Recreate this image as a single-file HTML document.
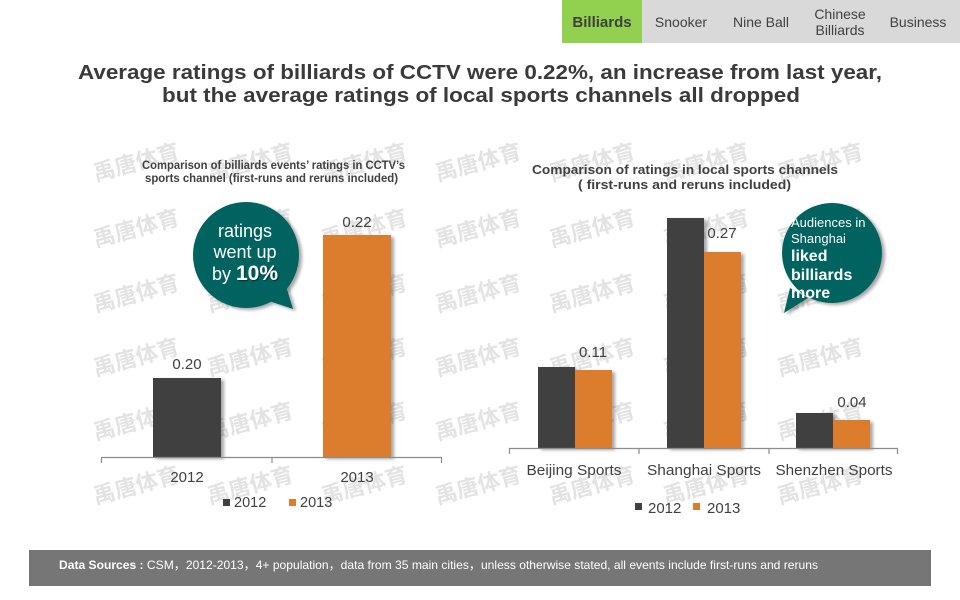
<!DOCTYPE html>
<html><head><meta charset="utf-8"><style>
html,body{margin:0;padding:0;background:#fff;width:960px;height:600px;overflow:hidden}
svg{display:block}
text{font-family:"Liberation Sans","Noto Sans CJK SC",sans-serif}
.wm{font-family:"Noto Sans CJK SC","WenQuanYi Zen Hei",sans-serif;font-weight:bold;font-size:22px;fill:#e3e3e3}
</style></head><body>
<svg width="960" height="600" viewBox="0 0 960 600" xmlns="http://www.w3.org/2000/svg">
<defs>
<filter id="sh" x="-20%" y="-20%" width="150%" height="140%">
<feGaussianBlur in="SourceAlpha" stdDeviation="1.5"/>
<feOffset dx="3" dy="2" result="o"/>
<feComponentTransfer><feFuncA type="linear" slope="0.35"/></feComponentTransfer>
<feMerge><feMergeNode/><feMergeNode in="SourceGraphic"/></feMerge>
</filter>
<filter id="ts"><feDropShadow dx="1" dy="1" stdDeviation="0.6" flood-color="#000" flood-opacity="0.5"/></filter>
</defs>

<!-- tabs -->
<rect x="642" y="0" width="318" height="43" fill="#d9d9d9"/>
<rect x="562" y="0" width="80" height="43" fill="#92d050"/>
<text x="602" y="27" text-anchor="middle" font-size="15" font-weight="bold" fill="#404040">Billiards</text>
<text x="681" y="27" text-anchor="middle" font-size="14" fill="#404040">Snooker</text>
<text x="761" y="27" text-anchor="middle" font-size="14" fill="#404040">Nine Ball</text>
<text x="840" y="19" text-anchor="middle" font-size="14" fill="#404040">Chinese</text>
<text x="840" y="35" text-anchor="middle" font-size="14" fill="#404040">Billiards</text>
<text x="918" y="27" text-anchor="middle" font-size="14" fill="#404040">Business</text>

<!-- title -->
<text x="78" y="79" font-size="20" font-weight="bold" fill="#3a3a3a" textLength="804" lengthAdjust="spacingAndGlyphs">Average ratings of billiards of CCTV were 0.22%, an increase from last year,</text>
<text x="162" y="102" font-size="20" font-weight="bold" fill="#3a3a3a" textLength="638" lengthAdjust="spacingAndGlyphs">but the average ratings of local sports channels all dropped</text>

<!-- watermarks -->
<g>
<g transform="translate(136,162) rotate(-15)"><text class="wm" x="0" y="8" text-anchor="middle">禹唐体育</text></g>
<g transform="translate(250,162) rotate(-15)"><text class="wm" x="0" y="8" text-anchor="middle">禹唐体育</text></g>
<g transform="translate(364,162) rotate(-15)"><text class="wm" x="0" y="8" text-anchor="middle">禹唐体育</text></g>
<g transform="translate(478,162) rotate(-15)"><text class="wm" x="0" y="8" text-anchor="middle">禹唐体育</text></g>
<g transform="translate(592,162) rotate(-15)"><text class="wm" x="0" y="8" text-anchor="middle">禹唐体育</text></g>
<g transform="translate(706,162) rotate(-15)"><text class="wm" x="0" y="8" text-anchor="middle">禹唐体育</text></g>
<g transform="translate(820,162) rotate(-15)"><text class="wm" x="0" y="8" text-anchor="middle">禹唐体育</text></g>

<g transform="translate(136,228) rotate(-15)"><text class="wm" x="0" y="8" text-anchor="middle">禹唐体育</text></g>
<g transform="translate(250,228) rotate(-15)"><text class="wm" x="0" y="8" text-anchor="middle">禹唐体育</text></g>
<g transform="translate(364,228) rotate(-15)"><text class="wm" x="0" y="8" text-anchor="middle">禹唐体育</text></g>
<g transform="translate(478,228) rotate(-15)"><text class="wm" x="0" y="8" text-anchor="middle">禹唐体育</text></g>
<g transform="translate(592,228) rotate(-15)"><text class="wm" x="0" y="8" text-anchor="middle">禹唐体育</text></g>
<g transform="translate(706,228) rotate(-15)"><text class="wm" x="0" y="8" text-anchor="middle">禹唐体育</text></g>
<g transform="translate(820,228) rotate(-15)"><text class="wm" x="0" y="8" text-anchor="middle">禹唐体育</text></g>

<g transform="translate(136,293) rotate(-15)"><text class="wm" x="0" y="8" text-anchor="middle">禹唐体育</text></g>
<g transform="translate(250,293) rotate(-15)"><text class="wm" x="0" y="8" text-anchor="middle">禹唐体育</text></g>
<g transform="translate(364,293) rotate(-15)"><text class="wm" x="0" y="8" text-anchor="middle">禹唐体育</text></g>
<g transform="translate(478,293) rotate(-15)"><text class="wm" x="0" y="8" text-anchor="middle">禹唐体育</text></g>
<g transform="translate(592,293) rotate(-15)"><text class="wm" x="0" y="8" text-anchor="middle">禹唐体育</text></g>
<g transform="translate(706,293) rotate(-15)"><text class="wm" x="0" y="8" text-anchor="middle">禹唐体育</text></g>
<g transform="translate(820,293) rotate(-15)"><text class="wm" x="0" y="8" text-anchor="middle">禹唐体育</text></g>

<g transform="translate(136,357) rotate(-15)"><text class="wm" x="0" y="8" text-anchor="middle">禹唐体育</text></g>
<g transform="translate(250,357) rotate(-15)"><text class="wm" x="0" y="8" text-anchor="middle">禹唐体育</text></g>
<g transform="translate(364,357) rotate(-15)"><text class="wm" x="0" y="8" text-anchor="middle">禹唐体育</text></g>
<g transform="translate(478,357) rotate(-15)"><text class="wm" x="0" y="8" text-anchor="middle">禹唐体育</text></g>
<g transform="translate(592,357) rotate(-15)"><text class="wm" x="0" y="8" text-anchor="middle">禹唐体育</text></g>
<g transform="translate(706,357) rotate(-15)"><text class="wm" x="0" y="8" text-anchor="middle">禹唐体育</text></g>
<g transform="translate(820,357) rotate(-15)"><text class="wm" x="0" y="8" text-anchor="middle">禹唐体育</text></g>

<g transform="translate(136,421) rotate(-15)"><text class="wm" x="0" y="8" text-anchor="middle">禹唐体育</text></g>
<g transform="translate(250,421) rotate(-15)"><text class="wm" x="0" y="8" text-anchor="middle">禹唐体育</text></g>
<g transform="translate(364,421) rotate(-15)"><text class="wm" x="0" y="8" text-anchor="middle">禹唐体育</text></g>
<g transform="translate(478,421) rotate(-15)"><text class="wm" x="0" y="8" text-anchor="middle">禹唐体育</text></g>
<g transform="translate(592,421) rotate(-15)"><text class="wm" x="0" y="8" text-anchor="middle">禹唐体育</text></g>
<g transform="translate(706,421) rotate(-15)"><text class="wm" x="0" y="8" text-anchor="middle">禹唐体育</text></g>
<g transform="translate(820,421) rotate(-15)"><text class="wm" x="0" y="8" text-anchor="middle">禹唐体育</text></g>

<g transform="translate(136,485) rotate(-15)"><text class="wm" x="0" y="8" text-anchor="middle">禹唐体育</text></g>
<g transform="translate(250,485) rotate(-15)"><text class="wm" x="0" y="8" text-anchor="middle">禹唐体育</text></g>
<g transform="translate(364,485) rotate(-15)"><text class="wm" x="0" y="8" text-anchor="middle">禹唐体育</text></g>
<g transform="translate(478,485) rotate(-15)"><text class="wm" x="0" y="8" text-anchor="middle">禹唐体育</text></g>
<g transform="translate(592,485) rotate(-15)"><text class="wm" x="0" y="8" text-anchor="middle">禹唐体育</text></g>
<g transform="translate(706,485) rotate(-15)"><text class="wm" x="0" y="8" text-anchor="middle">禹唐体育</text></g>
<g transform="translate(820,485) rotate(-15)"><text class="wm" x="0" y="8" text-anchor="middle">禹唐体育</text></g>
</g>

<!-- LEFT CHART -->
<text x="142" y="169" font-size="11.5" font-weight="bold" fill="#404040" textLength="263" lengthAdjust="spacingAndGlyphs">Comparison of billiards events’ ratings in CCTV’s</text>
<text x="145" y="182" font-size="11.5" font-weight="bold" fill="#404040" textLength="253" lengthAdjust="spacingAndGlyphs">sports channel (first-runs and reruns included)</text>

<rect x="153" y="378" width="68" height="79" fill="#404040" filter="url(#sh)"/>
<rect x="323" y="235" width="68" height="222" fill="#dc7d2e" filter="url(#sh)"/>
<line x1="101" y1="457.5" x2="442" y2="457.5" stroke="#8c8c8c" stroke-width="1.2"/>
<line x1="101.5" y1="457" x2="101.5" y2="463" stroke="#8c8c8c" stroke-width="1.2"/>
<line x1="272" y1="457" x2="272" y2="463" stroke="#8c8c8c" stroke-width="1.2"/>
<line x1="441.5" y1="457" x2="441.5" y2="463" stroke="#8c8c8c" stroke-width="1.2"/>
<text x="187" y="369" text-anchor="middle" font-size="15" fill="#404040">0.20</text>
<text x="357" y="227" text-anchor="middle" font-size="15" fill="#404040">0.22</text>
<text x="187" y="482" text-anchor="middle" font-size="15" fill="#404040">2012</text>
<text x="357" y="482" text-anchor="middle" font-size="15" fill="#404040">2013</text>
<rect x="223" y="499" width="7" height="7" fill="#404040"/>
<text x="234" y="507" font-size="14.5" fill="#404040">2012</text>
<rect x="289" y="499" width="7" height="7" fill="#dc7d2e"/>
<text x="300" y="507" font-size="14.5" fill="#404040">2013</text>

<!-- left bubble -->
<g filter="url(#sh)">
<circle cx="246" cy="255" r="53" fill="#05645f"/>
<path d="M266 300 L293 309 L286 286 Z" fill="#05645f"/>
</g>
<text x="245" y="237" text-anchor="middle" font-size="18" fill="#fff">ratings</text>
<text x="245" y="258" text-anchor="middle" font-size="18" fill="#fff">went up</text>
<text x="245" y="280" text-anchor="middle" font-size="18" fill="#fff">by <tspan font-weight="bold" font-size="21" filter="url(#ts)">10%</tspan></text>

<!-- RIGHT CHART -->
<text x="532" y="174" font-size="13" font-weight="bold" fill="#404040" textLength="306" lengthAdjust="spacingAndGlyphs">Comparison of ratings in local sports channels</text>
<text x="578" y="189" font-size="13" font-weight="bold" fill="#404040" textLength="213" lengthAdjust="spacingAndGlyphs">( first-runs and reruns included)</text>

<rect x="538" y="367" width="37" height="81" fill="#404040" filter="url(#sh)"/>
<rect x="575" y="370" width="37" height="78" fill="#dc7d2e" filter="url(#sh)"/>
<rect x="667" y="218" width="37" height="230" fill="#404040" filter="url(#sh)"/>
<rect x="704" y="252" width="37" height="196" fill="#dc7d2e" filter="url(#sh)"/>
<rect x="796" y="413" width="37" height="35" fill="#404040" filter="url(#sh)"/>
<rect x="833" y="420" width="37" height="28" fill="#dc7d2e" filter="url(#sh)"/>
<line x1="509" y1="448.5" x2="898" y2="448.5" stroke="#8c8c8c" stroke-width="1.2"/>
<line x1="509.5" y1="448" x2="509.5" y2="454" stroke="#8c8c8c" stroke-width="1.2"/>
<line x1="639" y1="448" x2="639" y2="454" stroke="#8c8c8c" stroke-width="1.2"/>
<line x1="769" y1="448" x2="769" y2="454" stroke="#8c8c8c" stroke-width="1.2"/>
<line x1="897.5" y1="448" x2="897.5" y2="454" stroke="#8c8c8c" stroke-width="1.2"/>
<text x="593" y="357" text-anchor="middle" font-size="15" fill="#404040">0.11</text>
<text x="722" y="238" text-anchor="middle" font-size="15" fill="#404040">0.27</text>
<text x="852" y="407" text-anchor="middle" font-size="15" fill="#404040">0.04</text>
<text x="574" y="475" text-anchor="middle" font-size="15" fill="#404040" textLength="95" lengthAdjust="spacingAndGlyphs">Beijing Sports</text>
<text x="704" y="475" text-anchor="middle" font-size="15" fill="#404040" textLength="114" lengthAdjust="spacingAndGlyphs">Shanghai Sports</text>
<text x="834" y="475" text-anchor="middle" font-size="15" fill="#404040" textLength="117" lengthAdjust="spacingAndGlyphs">Shenzhen Sports</text>
<rect x="635" y="503" width="7" height="7" fill="#404040"/>
<text x="648" y="513" font-size="15" fill="#404040">2012</text>
<rect x="693" y="503" width="7" height="7" fill="#dc7d2e"/>
<text x="707" y="513" font-size="15" fill="#404040">2013</text>

<!-- right bubble -->
<g filter="url(#sh)">
<circle cx="832" cy="253" r="50" fill="#05645f"/>
<path d="M790 288 L784 313 L808 298 Z" fill="#05645f"/>
</g>
<text x="791" y="227" font-size="13" fill="#fff">Audiences  in</text>
<text x="791" y="243" font-size="13" fill="#fff">Shanghai</text>
<text x="791" y="261" font-size="16" font-weight="bold" fill="#fff">liked</text>
<text x="791" y="280" font-size="16" font-weight="bold" fill="#fff">billiards</text>
<text x="791" y="298" font-size="16" font-weight="bold" fill="#fff">more</text>

<!-- footer -->
<rect x="29" y="550" width="902" height="36" fill="#767676"/>
<text x="59" y="569" font-size="12" fill="#fff" textLength="759" lengthAdjust="spacingAndGlyphs"><tspan font-weight="bold">Data Sources :</tspan> CSM，2012-2013，4+ population，data from 35 main cities，unless otherwise stated, all events include first-runs and reruns</text>
</svg>
</body></html>
